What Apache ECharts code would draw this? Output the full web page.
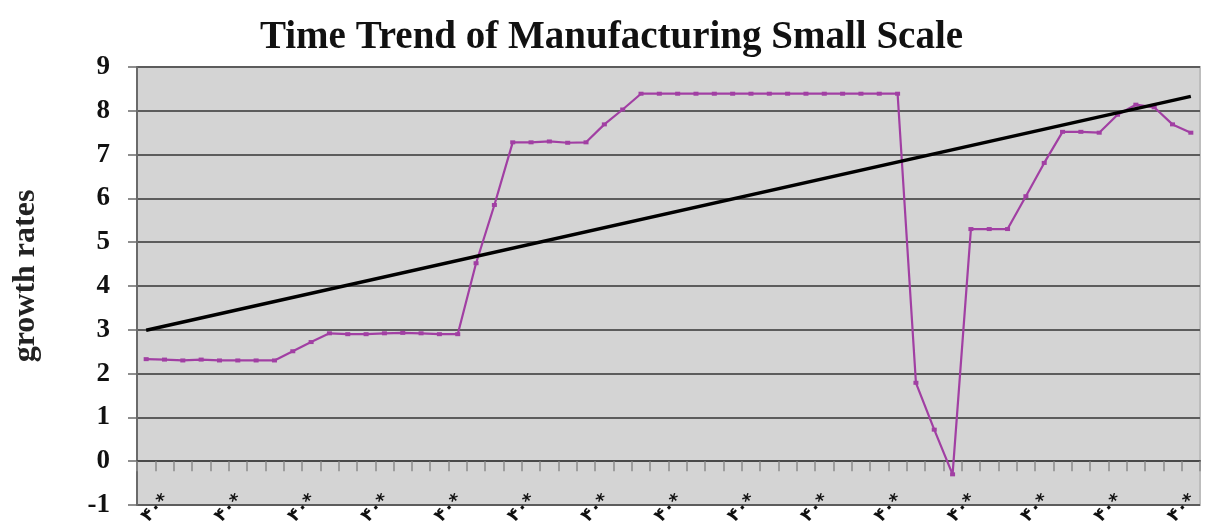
<!DOCTYPE html>
<html>
<head>
<meta charset="utf-8">
<title>Time Trend of Manufacturing Small Scale</title>
<script src="https://cdn.jsdelivr.net/npm/echarts@6/dist/echarts.min.js"></script>
<style>
  html, body { margin: 0; padding: 0; background: #ffffff; }
  #chart { width: 1223px; height: 522px; }
</style>
</head>
<body>
<div id="chart"></div>
<script>
// Period labels along the horizontal axis (one per observation)
const periods = Array.from({ length: 58 }, () => '۴۰*');

// Growth rates of small-scale manufacturing, one value per period
const growth = [
  2.33, 2.32, 2.30, 2.32, 2.30, 2.30, 2.30, 2.30, 2.51, 2.72,
  2.92, 2.90, 2.90, 2.92, 2.93, 2.92, 2.90, 2.90, 4.52, 5.85,
  7.28, 7.28, 7.30, 7.27, 7.28, 7.69, 8.03, 8.39, 8.39, 8.39,
  8.39, 8.39, 8.39, 8.39, 8.39, 8.39, 8.39, 8.39, 8.39, 8.39,
  8.39, 8.39, 1.79, 0.72, -0.30, 5.30, 5.30, 5.30, 6.05, 6.81,
  7.52, 7.52, 7.50, 7.91, 8.14, 8.08, 7.69, 7.50
];

// Linear trend: fitted value at the first and at the last period
const trendEnds = [2.99, 8.33];

// Value axis ticks
const yTicks = [-1, 0, 1, 2, 3, 4, 5, 6, 7, 8, 9];

const serif = '"Liberation Serif", "DejaVu Serif", serif';
const chart = echarts.init(document.getElementById('chart'), null, { renderer: 'canvas' });

chart.setOption({
  animation: false,
  backgroundColor: '#ffffff',
  title: {
    text: 'Time Trend of Manufacturing Small Scale',
    left: 'center',
    top: 13,
    textStyle: { fontFamily: serif, fontWeight: 'bold', fontSize: 39, color: '#111' }
  },
  grid: {
    left: 137, right: 23, top: 67, bottom: 17,
    outerBoundsMode: 'none',
    containLabel: false,
    show: true,
    backgroundColor: '#d4d4d4',
    borderColor: '#bdbdbd',
    borderWidth: 2
  },
  xAxis: [
    {
      // axis drawn along the zero line, carrying the tick marks
      type: 'category',
      data: periods,
      boundaryGap: true,
      axisLine: { onZero: true, lineStyle: { color: '#4a4a4a', width: 2 } },
      axisTick: { show: true, interval: 0, inside: false, length: 10, lineStyle: { color: '#8a8a8a', width: 1.5 } },
      axisLabel: { show: false },
      splitLine: { show: false }
    },
    {
      // same categories, labels placed under the plot
      type: 'category',
      data: periods,
      boundaryGap: true,
      position: 'bottom',
      axisLine: { show: false },
      axisTick: { show: false },
      splitLine: { show: false },
      axisLabel: {
        show: true,
        interval: 3,
        rotate: 45,
        margin: 0,
        verticalAlign: 'top',
        padding: [0, -20, 0, 0],
        fontFamily: '"DejaVu Sans", sans-serif',
        fontWeight: 'bold',
        fontSize: 18,
        color: '#111'
      }
    }
  ],
  yAxis: {
    type: 'value',
    min: yTicks[0],
    max: yTicks[yTicks.length - 1],
    interval: 1,
    name: 'growth rates',
    nameLocation: 'middle',
    nameGap: 95,
    nameRotate: 90,
    nameTextStyle: { fontFamily: serif, fontWeight: 'bold', fontSize: 32, color: '#222', padding: [0, 0, 0, 20] },
    axisLine: { show: true, lineStyle: { color: '#6a6a6a', width: 2 } },
    axisTick: { show: true, inside: false, length: 9, lineStyle: { color: '#6a6a6a', width: 1.5 } },
    axisLabel: {
      margin: 27,
      fontFamily: serif,
      fontWeight: 'bold',
      fontSize: 27,
      color: '#111'
    },
    splitLine: { show: true, lineStyle: { color: '#5c5c5c', width: 2 } }
  },
  series: [
    {
      name: 'growth rates',
      type: 'line',
      xAxisIndex: 0,
      data: growth,
      symbol: 'rect',
      symbolSize: [5, 4],
      itemStyle: { color: '#a13fa3' },
      lineStyle: { color: '#a13fa3', width: 2.2 },
      z: 3
    },
    {
      name: 'trend',
      type: 'line',
      xAxisIndex: 0,
      data: [[0, trendEnds[0]], [growth.length - 1, trendEnds[1]]],
      symbol: 'none',
      lineStyle: { color: '#000000', width: 3.5 },
      z: 4
    }
  ]
});
</script>
</body>
</html>
